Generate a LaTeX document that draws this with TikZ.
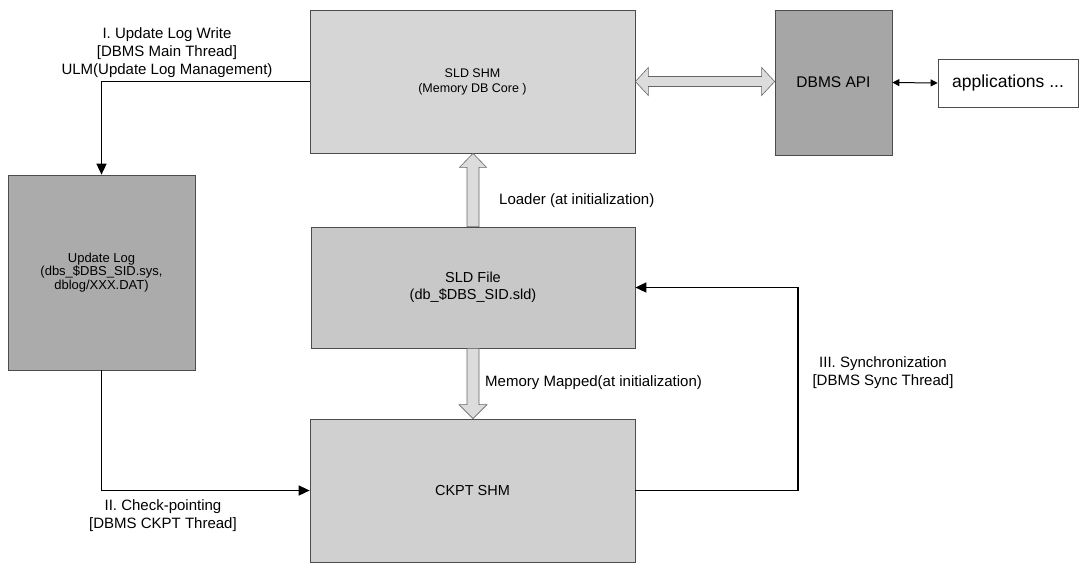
\documentclass[tikz,border=0pt]{standalone}
\usepackage{fontspec}
\setmainfont{Liberation Sans}
\usetikzlibrary{arrows.meta,calc}
\definecolor{shmfill}{HTML}{D6D6D6}
\definecolor{filefill}{HTML}{C8C8C8}
\definecolor{ckptfill}{HTML}{D0D0D0}
\definecolor{logfill}{HTML}{ABABAB}
\definecolor{apifill}{HTML}{A6A6A6}
\definecolor{hollowfill}{HTML}{DCDCDC}
\begin{document}
\begin{tikzpicture}[x=1pt,y=-1pt,
  box/.style={draw=black!70, line width=0.7pt, inner sep=0pt, align=center, text=black},
  conn/.style={line width=1.5pt, -{Triangle[length=11pt,width=10pt]}},
  thinconn/.style={line width=1pt, {Triangle[length=7pt,width=7pt]}-{Triangle[length=7pt,width=7pt]}},
  hollow/.style={fill=hollowfill, draw=black!60, line width=0.6pt, line join=miter},
  lbl/.style={align=center, inner sep=0pt, font=\fontsize{15}{18}\selectfont}
]
\useasboundingbox (0,0) rectangle (1081,563);

% boxes
\node[box, fill=shmfill, minimum width=325pt, minimum height=143pt,
      font=\fontsize{12.5}{15}\selectfont] (shm) at (472.5,81.5) {SLD SHM\\(Memory DB Core )};
\node[box, fill=apifill, minimum width=117pt, minimum height=145pt,
      font=\fontsize{15.5}{17}\selectfont] (api) at (833.5,82.5) {DBMS API};
\node[box, fill=white, minimum width=140pt, minimum height=48pt,
      font=\fontsize{17.5}{20}\selectfont] (app) at (1008,83) {applications ...};
\node[box, fill=logfill, minimum width=187pt, minimum height=195pt,
      font=\fontsize{13}{13.5}\selectfont] (ulog) at (101.5,272.5) {Update Log\\(dbs\_\$DBS\_SID.sys,\\dblog/XXX.DAT)};
\node[box, fill=filefill, minimum width=324pt, minimum height=121pt,
      font=\fontsize{14.5}{17}\selectfont] (file) at (473,287.5) {SLD File\\(db\_\$DBS\_SID.sld)};
\node[box, fill=ckptfill, minimum width=325pt, minimum height=143pt,
      font=\fontsize{14.5}{18}\selectfont] (ckpt) at (472.5,490.5) {CKPT SHM};

% hollow double arrow SLD SHM <-> DBMS API
\path[hollow] let \p1=(shm.east), \p2=(api.west) in
  (\x1,\y1) -- (\x1+13pt,\y1+14pt) -- (\x1+13pt,\y1+5pt) -- (\x2-13pt,\y1+5pt)
  -- (\x2-13pt,\y1+14pt) -- (\x2,\y1) -- (\x2-13pt,\y1-14pt) -- (\x2-13pt,\y1-5pt)
  -- (\x1+13pt,\y1-5pt) -- (\x1+13pt,\y1-14pt) -- cycle;

% loader arrow (up)
\path[hollow] let \p1=(file.north), \p2=(shm.south) in
  (\x1-6pt,\y1) -- (\x1-6pt,\y2-14pt) -- (\x1-13.5pt,\y2-14pt) -- (\x1,\y2)
  -- (\x1+13.5pt,\y2-14pt) -- (\x1+6pt,\y2-14pt) -- (\x1+6pt,\y1) -- cycle;

% memory mapped arrow (down)
\path[hollow] let \p1=(file.south), \p2=(ckpt.north) in
  (\x1-6pt,\y1) -- (\x1-6pt,\y2+14pt) -- (\x1-14pt,\y2+14pt) -- (\x1,\y2)
  -- (\x1+14pt,\y2+14pt) -- (\x1+6pt,\y2+14pt) -- (\x1+6pt,\y1) -- cycle;

% API <-> applications
\draw[thinconn] (api.east) -- (app.west);

% I. update log write
\draw[conn] (shm.west) -| (ulog.north);
% II. check-pointing
\draw[conn] (ulog.south) |- (ckpt.west);
% III. synchronization
\coordinate (sync) at (798,490.5);
\draw[conn] (ckpt.east) -- (sync) |- (file.east);

% labels
\node[lbl] (l1) at (167,53) {I. Update Log Write\\{}[DBMS Main Thread]\\ULM(Update Log Management)};
\node[lbl] (l2) at (163,516) {II. Check-pointing\\{}[DBMS CKPT Thread]};
\node[lbl] (l3) at (883,373) {III. Synchronization\\{}[DBMS Sync Thread]};
\node[lbl, anchor=west] (l4) at (499,201) {Loader (at initialization)};
\node[lbl, anchor=west] (l5) at (485,383) {Memory Mapped(at initialization)};
\end{tikzpicture}
\end{document}
